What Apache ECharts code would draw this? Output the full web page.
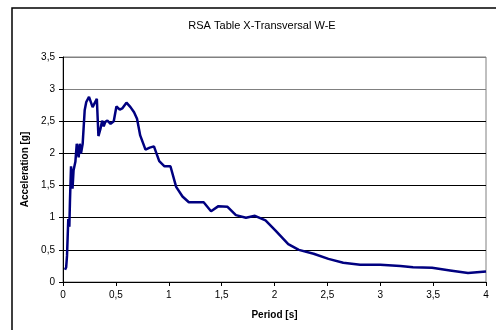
<!DOCTYPE html>
<html>
<head>
<meta charset="utf-8">
<script src="https://cdn.jsdelivr.net/npm/echarts@6/dist/echarts.min.js"></script>
<style>
  html, body { margin: 0; padding: 0; background: #fff; }
  #chart { width: 496px; height: 330px; }
</style>
</head>
<body>
<div id="chart"></div>
<script>
// Spectrum: period [s] vs acceleration [g]
const periods = [0.019, 0.03, 0.038, 0.05, 0.06, 0.066, 0.076, 0.09, 0.10, 0.117, 0.13, 0.148, 0.158, 0.17, 0.186,
  0.205, 0.22, 0.233, 0.246, 0.262, 0.28, 0.297, 0.32, 0.335, 0.354, 0.37, 0.385, 0.40, 0.42, 0.45, 0.48,
  0.505, 0.537, 0.56, 0.60, 0.638, 0.672, 0.70, 0.73, 0.78, 0.82, 0.86, 0.91, 0.96, 1.016, 1.07, 1.13,
  1.19, 1.25, 1.33, 1.40, 1.47, 1.556, 1.635, 1.73, 1.815, 1.915, 2.01, 2.13, 2.23, 2.37, 2.51, 2.65,
  2.81, 3.0, 3.19, 3.31, 3.49, 3.66, 3.83, 4.0];
const accel = [0.19, 0.23, 0.41, 0.98, 0.86, 1.27, 1.80, 1.45, 1.74, 1.87, 2.15, 1.94, 2.15, 2.0, 2.15,
  2.67, 2.8, 2.77, 2.88, 2.88, 2.72, 2.70, 2.85, 2.27, 2.38, 2.51, 2.42, 2.49, 2.51, 2.46, 2.50,
  2.73, 2.68, 2.70, 2.79, 2.72, 2.64, 2.54, 2.28, 2.06, 2.09, 2.11, 1.88, 1.80, 1.80, 1.48, 1.33,
  1.24, 1.24, 1.24, 1.10, 1.18, 1.17, 1.04, 1.00, 1.03, 0.96, 0.80, 0.59, 0.50, 0.44, 0.36, 0.30,
  0.27, 0.27, 0.25, 0.23, 0.22, 0.18, 0.14, 0.165];

const comma = v => String(v).replace('.', ',');

var myChart = echarts.init(document.getElementById('chart'));
var option = {
  animation: false,
  textStyle: { fontFamily: 'Liberation Sans, Arial, sans-serif' },
  title: {
    text: 'RSA Table X-Transversal W-E',
    left: 257, top: 15, textAlign: 'center',
    textStyle: { fontSize: 11, fontWeight: 'normal', color: '#000' }
  },
  graphic: [{
    type: 'rect', silent: true,
    shape: { x: 12, y: 8, width: 500, height: 340 },
    style: { fill: 'none', stroke: '#000', lineWidth: 1.5 }
  }],
  grid: {
    left: 63, right: 10, top: 57, bottom: 48,
    show: true, borderColor: '#808080', borderWidth: 1, backgroundColor: '#fff'
  },
  xAxis: {
    type: 'value', min: 0, max: 4, interval: 0.5,
    name: 'Period [s]', nameLocation: 'middle', nameGap: 28,
    nameTextStyle: { fontSize: 10, fontWeight: 'bold', color: '#000' },
    axisLine: { lineStyle: { color: '#000' } },
    axisTick: { show: true, length: 4, lineStyle: { color: '#000' } },
    axisLabel: { fontSize: 10, color: '#000', margin: 8, formatter: comma },
    splitLine: { show: false }
  },
  yAxis: {
    type: 'value', min: 0, max: 3.5, interval: 0.5,
    name: 'Acceleration [g]', nameLocation: 'middle', nameGap: 29,
    nameTextStyle: { fontSize: 10, fontWeight: 'bold', color: '#000' },
    axisLine: { show: true, lineStyle: { color: '#000' } },
    axisTick: { show: true, length: 4, lineStyle: { color: '#000' } },
    axisLabel: { fontSize: 10, color: '#000', margin: 8, formatter: comma },
    splitLine: {
      show: true,
      lineStyle: { color: ['#000', '#000', '#000', '#000', '#000', '#000', '#808080', '#808080'], width: 1 }
    }
  },
  series: [{
    type: 'line',
    data: periods.map((p, i) => [p, accel[i]]),
    showSymbol: false,
    lineStyle: { color: '#000080', width: 2.5 }
  }]
};
option && myChart.setOption(option);
</script>
</body>
</html>
